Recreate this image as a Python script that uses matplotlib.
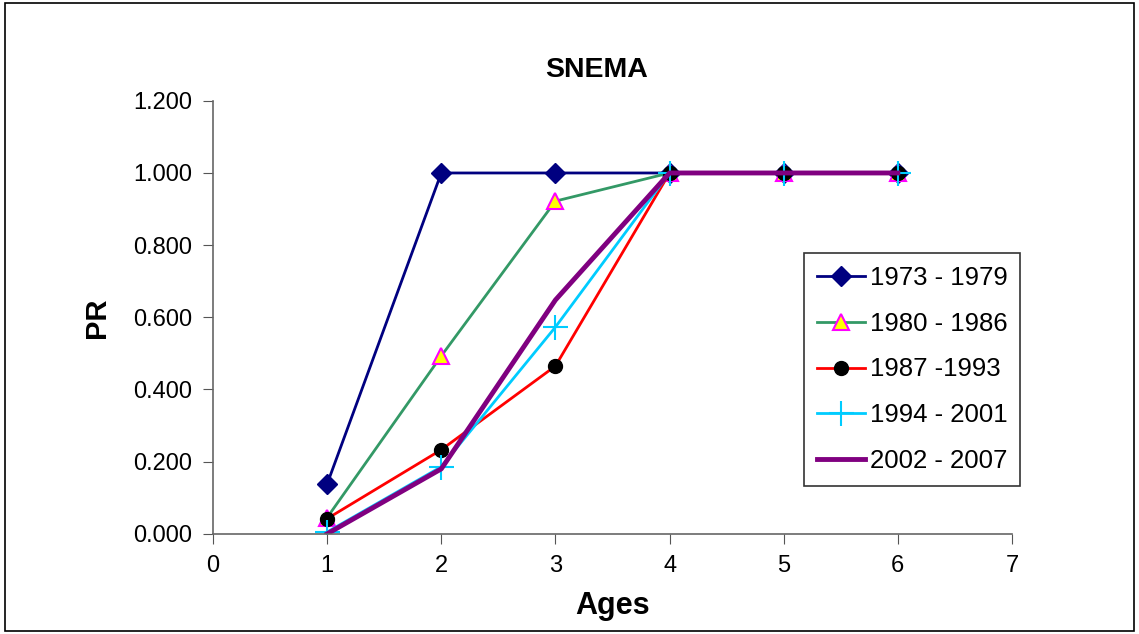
import matplotlib.pyplot as plt
from matplotlib.patches import Rectangle
from matplotlib.ticker import FormatStrFormatter

plt.rcParams['font.family'] = ['Liberation Sans', 'DejaVu Sans']

ages = [1, 2, 3, 4, 5, 6]
labels = ['1973 - 1979', '1980 - 1986', '1987 -1993', '1994 - 2001', '2002 - 2007']
pr_1973 = [0.138, 1.0, 1.0, 1.0, 1.0, 1.0]
pr_1980 = [0.045, 0.493, 0.922, 1.0, 1.0, 1.0]
pr_1987 = [0.042, 0.233, 0.465, 1.0, 1.0, 1.0]
pr_1994 = [0.005, 0.186, 0.573, 1.0, 1.0, 1.0]
pr_2002 = [0.0, 0.180, 0.648, 1.0, 1.0, 1.0]

fig = plt.figure(figsize=(11.39, 6.34), dpi=100)
ax = fig.add_axes([0.187, 0.158, 0.7015, 0.683])

# bordure de la figure
fig.patches.append(Rectangle((0.004, 0.005), 0.992, 0.99, transform=fig.transFigure,
                             fill=False, edgecolor='black', linewidth=1.2))

ax.plot(ages, pr_1973, color='#000080', marker='D', markersize=10, lw=2, label=labels[0])
ax.plot(ages, pr_1980, color='#339966', marker='^', markersize=11, markerfacecolor='yellow',
        markeredgecolor='#ff00ff', markeredgewidth=1.5, lw=2, label=labels[1])
ax.plot(ages, pr_1987, color='red', marker='o', markersize=10, markerfacecolor='black',
        markeredgecolor='black', lw=2, label=labels[2])
ax.plot(ages, pr_1994, color='#00ccff', marker='+', markersize=18, markeredgewidth=1.5,
        lw=2, label=labels[3])
ax.plot(ages, pr_2002, color='#800080', lw=3.5, label=labels[4])

ax.set_xlim(0, 7)
ax.set_ylim(0, 1.2)
ax.set_xticks(range(0, 8))
ax.set_yticks([0, 0.2, 0.4, 0.6, 0.8, 1.0, 1.2])
ax.yaxis.set_major_formatter(FormatStrFormatter('%.3f'))
ax.tick_params(labelsize=17, direction='out', length=7, color='#555555', pad=8)
for s in ['top', 'right']:
    ax.spines[s].set_visible(False)
for s in ['left', 'bottom']:
    ax.spines[s].set_color('#666666')
    ax.spines[s].set_linewidth(1.2)

ax.set_title('SNEMA', fontsize=20.5, fontweight='bold', pad=17, x=0.48)
ax.set_xlabel('Ages', fontsize=22, fontweight='bold', labelpad=10)
ax.set_ylabel('PR', fontsize=21, fontweight='bold', labelpad=16)

leg = ax.legend(loc='upper left', bbox_to_anchor=(0.706, 0.601), bbox_transform=fig.transFigure,
                borderaxespad=0, fontsize=18.5, frameon=True, fancybox=False, edgecolor='black',
                handlelength=1.85, labelspacing=0.85, borderpad=0.5, handletextpad=0.2)
leg.get_frame().set_linewidth(1.2)

fig.savefig('out.png', dpi=100)
